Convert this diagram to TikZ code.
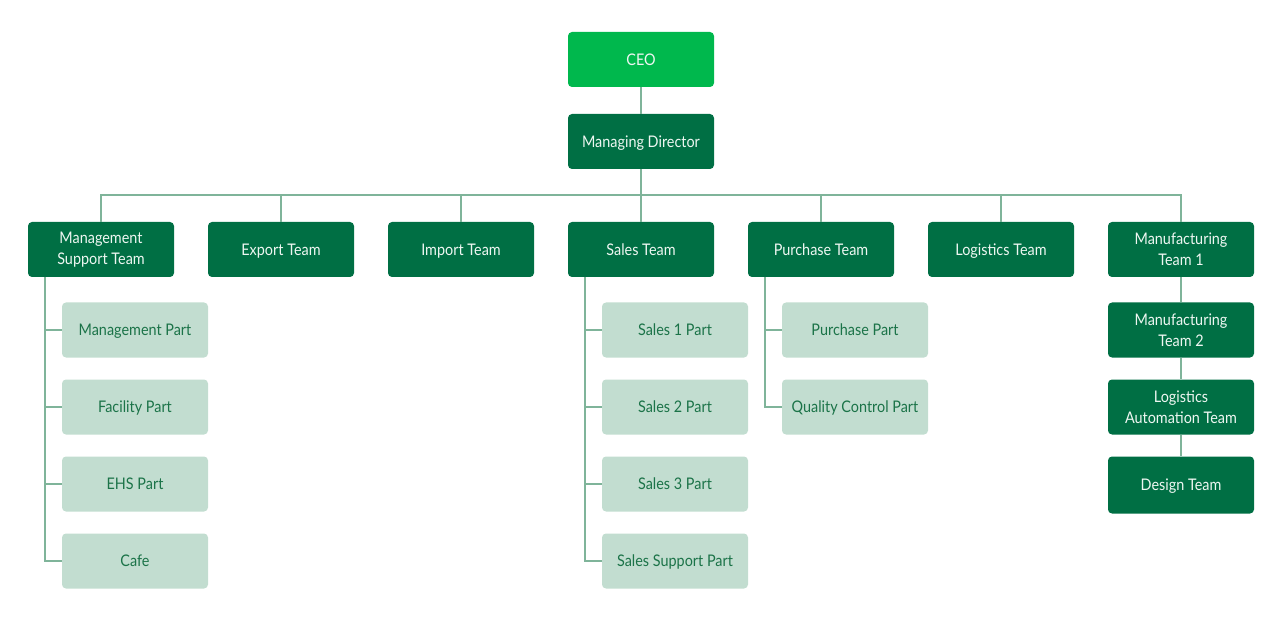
\documentclass[tikz,border=0pt]{standalone}
\usepackage{fontspec}
\setmainfont{Lato}[FakeStretch=0.9]
\definecolor{ceogreen}{HTML}{00B84D}
\definecolor{darkgreen}{HTML}{006F44}
\definecolor{lightgreen}{HTML}{C2DDD0}
\definecolor{lighttext}{HTML}{1B7348}
\definecolor{linegreen}{HTML}{7FB49A}
\definecolor{whitetext}{HTML}{EEF7F2}
\begin{document}
\begin{tikzpicture}[x=1pt,y=-1pt,
  box/.style={minimum width=146pt,minimum height=55pt,inner sep=0pt,rounded corners=4pt,font=\fontsize{16}{21}\selectfont},
  one/.style={text height=11.5pt,text depth=0pt},
  two/.style={align=center,yshift=0pt},
  topbox/.style={box,fill=ceogreen,text=whitetext},
  teambox/.style={box,fill=darkgreen,text=whitetext},
  partbox/.style={box,fill=lightgreen,text=lighttext},
  conn/.style={draw=linegreen,line width=1.4pt}]
\useasboundingbox (0,0) rectangle (1280,620);
\node[topbox,one] (ceo) at (641,59.5) {CEO};
\node[teambox,one] (md) at (641,141.5) {Managing Director};
\node[teambox,two] (mst) at (101,249.5) {Management\\Support Team};
\node[teambox,one] (exp) at (281,249.5) {Export Team};
\node[teambox,one] (imp) at (461,249.5) {Import Team};
\node[teambox,one] (sal) at (641,249.5) {Sales Team};
\node[teambox,one] (pur) at (821,249.5) {Purchase Team};
\node[teambox,one] (log) at (1001,249.5) {Logistics Team};
\node[teambox,two] (mf1) at (1181,249.5) {Manufacturing\\Team 1};
\node[teambox,two] (mf2) at (1181,330) {Manufacturing\\Team 2};
\node[teambox,two] (lat) at (1181,407) {Logistics\\Automation Team};
\node[teambox,one,minimum height=57pt] (des) at (1181,485) {Design Team};
\node[partbox,one] (mp) at (135,330) {Management Part};
\node[partbox,one] (fp) at (135,407) {Facility Part};
\node[partbox,one] (ep) at (135,484) {EHS Part};
\node[partbox,one] (cf) at (135,561) {Cafe};
\node[partbox,one] (s1) at (675,330) {Sales 1 Part};
\node[partbox,one] (s2) at (675,407) {Sales 2 Part};
\node[partbox,one] (s3) at (675,484) {Sales 3 Part};
\node[partbox,one] (ss) at (675,561) {Sales Support Part};
\node[partbox,one] (pp) at (855,330) {Purchase Part};
\node[partbox,one] (qc) at (855,407) {Quality Control Part};
\coordinate (bus) at (641,195);
\coordinate (mstl) at ([xshift=17pt]mst.south west);
\coordinate (sall) at ([xshift=17pt]sal.south west);
\coordinate (purl) at ([xshift=17pt]pur.south west);
\begin{scope}[on background layer/.try]
\draw[conn] (ceo) -- (md);
\draw[conn] (md.south) -- (bus);
\draw[conn] (mst.north) |- (bus) -| (mf1.north);
\foreach \n in {exp,imp,sal,pur,log} \draw[conn] (\n.north) -- (\n.north |- bus);
\draw[conn] (mf1) -- (mf2);
\draw[conn] (mf2) -- (lat);
\draw[conn] (lat) -- (des);
\draw[conn] (mstl) |- (cf.west);
\foreach \n in {mp,fp,ep} \draw[conn] (\n.west) -- (\n.west -| mstl);
\draw[conn] (sall) |- (ss.west);
\foreach \n in {s1,s2,s3} \draw[conn] (\n.west) -- (\n.west -| sall);
\draw[conn] (purl) |- (qc.west);
\draw[conn] (pp.west) -- (pp.west -| purl);
\end{scope}
\end{tikzpicture}
\end{document}
